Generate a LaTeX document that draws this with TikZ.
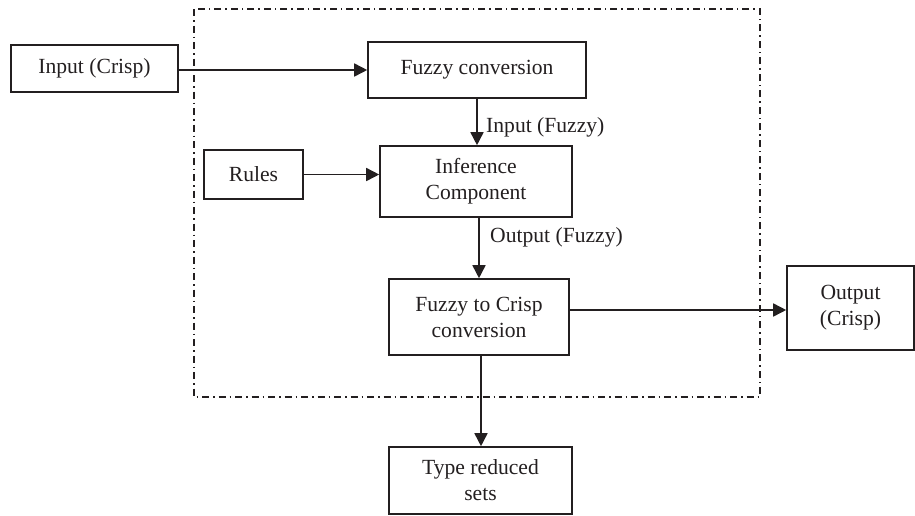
\documentclass[tikz,border=0pt]{standalone}
\usepackage{fontspec}
\setmainfont{Liberation Serif}
\usetikzlibrary{arrows.meta,calc}
\definecolor{ink}{HTML}{231F20}
\begin{document}
\begin{tikzpicture}[x=1pt,y=-1pt,
  box/.style={draw=ink,line width=1.6pt,rectangle,inner sep=0pt,align=center,
    font=\fontsize{21.6}{26}\selectfont,text=ink},
  lbl/.style={inner sep=0pt,anchor=west,font=\fontsize{21.6}{26}\selectfont,text=ink},
  conn/.style={draw=ink,line width=1.6pt,-{Triangle[length=13pt,width=13pt]}},
  frame/.style={draw=ink,line width=1.1pt,dash pattern=on 7pt off 4pt on 1.5pt off 4pt}]
\useasboundingbox (0,0) rectangle (915,515);
\draw[frame] (194,9) rectangle (760,397);
\node[box,minimum width=167pt,minimum height=47pt] (inp) at (94.5,68.5) {Input (Crisp)};
\node[box,minimum width=218pt,minimum height=56pt] (fc) at (477,70) {Fuzzy conversion};
\node[box,minimum width=99pt,minimum height=49pt] (rules) at (253.5,174.5) {Rules};
\node[box,minimum width=192pt,minimum height=71pt] (inf) at (476,181.5) {Inference\\Component};
\node[box,minimum width=180pt,minimum height=76pt] (f2c) at (479,317) {Fuzzy to Crisp\\conversion};
\node[box,minimum width=127pt,minimum height=84pt] (out) at (850.5,308) {Output\\(Crisp)};
\node[box,minimum width=183pt,minimum height=67pt] (tr) at (480.5,480.5) {Type reduced\\sets};
\node[lbl] (l1) at (486,127) {Input (Fuzzy)};
\node[lbl] (l2) at (490,237) {Output (Fuzzy)};
\draw[conn] ([yshift=-1.5pt]inp.east) -- ([yshift=-1.5pt]inp.east -| fc.west);
\draw[conn] (fc.south) -- (fc.south |- inf.north);
\draw[conn] (rules.east) -- (rules.east -| inf.west);
\draw[conn] ([xshift=3pt]inf.south) -- ([xshift=3pt]inf.south |- f2c.north);
\draw[conn] ([yshift=7pt]f2c.east) -- ([yshift=7pt]f2c.east -| out.west);
\draw[conn] ([xshift=2pt]f2c.south) -- ([xshift=2pt]f2c.south |- tr.north);
\end{tikzpicture}
\end{document}
